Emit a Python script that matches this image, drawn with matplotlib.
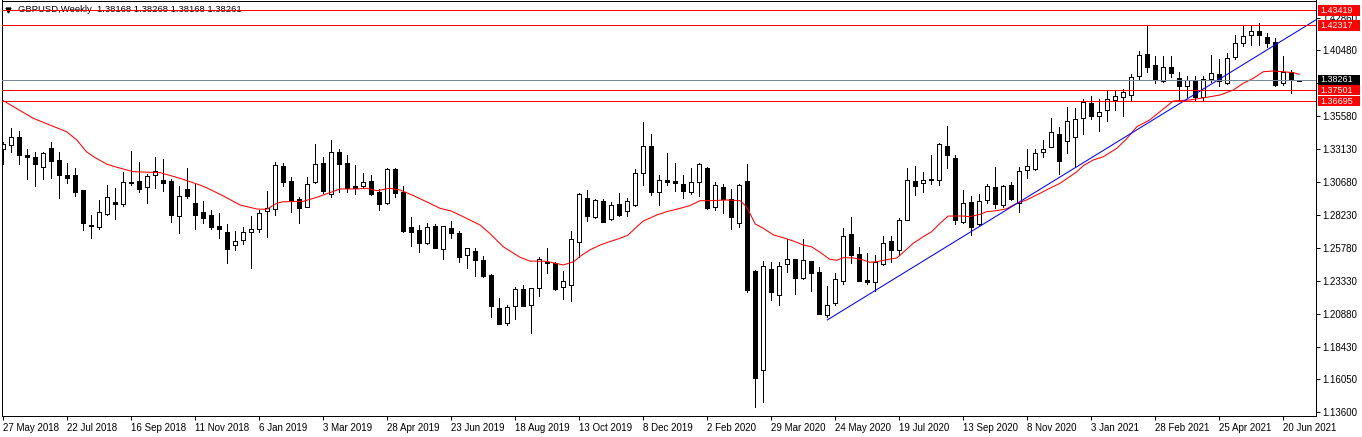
import matplotlib
matplotlib.use("Agg")
import matplotlib.pyplot as plt
from matplotlib.patches import Rectangle
from matplotlib.lines import Line2D
import pandas as pd

plt.rcParams["font.family"] = ["Liberation Sans", "DejaVu Sans"]
plt.rcParams["font.size"] = 7

# ---- data --------------------------------------------------------------
symbol = "GBPUSD,Weekly"
first_week = "2018-05-27"

opens = [1.3311, 1.3341, 1.3400, 1.3269, 1.3251, 1.3177, 1.3318, 1.3229, 1.3118, 1.3118,
         1.3009, 1.2749, 1.2737, 1.2834, 1.2918, 1.2905, 1.3068, 1.3076, 1.3034, 1.3118,
         1.3086, 1.3076, 1.2819, 1.3017, 1.2910, 1.2846, 1.2824, 1.2742, 1.2698, 1.2599,
         1.2636, 1.2695, 1.2717, 1.2851, 1.2866, 1.3187, 1.3076, 1.2940, 1.2886, 1.3066,
         1.3210, 1.2980, 1.3291, 1.3210, 1.3039, 1.3036, 1.3076, 1.2994, 1.2910, 1.3165,
         1.2997, 1.2732, 1.2713, 1.2619, 1.2742, 1.2574, 1.2727, 1.2690, 1.2525, 1.2557,
         1.2490, 1.2379, 1.2134, 1.2025, 1.2146, 1.2272, 1.2154, 1.2280, 1.2475, 1.2465,
         1.2287, 1.2302, 1.2621, 1.2947, 1.2811, 1.2928, 1.2792, 1.2903, 1.2851, 1.2901,
         1.3133, 1.3333, 1.2997, 1.3084, 1.3076, 1.3054, 1.2992, 1.3066, 1.3170, 1.2881,
         1.3029, 1.2940, 1.2767, 1.3076, 1.2406, 1.1671, 1.2423, 1.2228, 1.2458, 1.2497,
         1.2359, 1.2483, 1.2401, 1.2079, 1.2169, 1.2334, 1.2683, 1.2535, 1.2339, 1.2327,
         1.2458, 1.2631, 1.2562, 1.2784, 1.3076, 1.3059, 1.3091, 1.3086, 1.3336, 1.3247,
         1.2774, 1.2920, 1.2755, 1.2933, 1.3032, 1.2896, 1.3046, 1.2915, 1.3155, 1.3168,
         1.3289, 1.3331, 1.3425, 1.3370, 1.3400, 1.3541, 1.3655, 1.3561, 1.3600, 1.3675,
         1.3697, 1.3712, 1.3853, 1.4021, 1.3934, 1.3816, 1.3919, 1.3838, 1.3781, 1.3825,
         1.3702, 1.3830, 1.3870, 1.3806, 1.3994, 1.4097, 1.4157, 1.4187, 1.4142, 1.4110,
         1.3806, 1.3887, 1.38168]
highs = [1.3368, 1.3467, 1.3447, 1.3313, 1.3291, 1.3294, 1.3365, 1.3291, 1.3209, 1.3172,
         1.3012, 1.2824, 1.2935, 1.3046, 1.3026, 1.3145, 1.3298, 1.3217, 1.3125, 1.3254,
         1.3239, 1.3093, 1.3039, 1.3172, 1.3056, 1.2928, 1.2861, 1.2839, 1.2757, 1.2705,
         1.2735, 1.2816, 1.2861, 1.3004, 1.3217, 1.3210, 1.3103, 1.2960, 1.3106, 1.3351,
         1.3254, 1.3380, 1.3314, 1.3269, 1.3195, 1.3138, 1.3121, 1.3017, 1.3175, 1.3170,
         1.3039, 1.2809, 1.2750, 1.2762, 1.2757, 1.2742, 1.2779, 1.2705, 1.2580, 1.2577,
         1.2520, 1.2383, 1.2208, 1.2154, 1.2290, 1.2302, 1.2282, 1.2510, 1.2579, 1.2475,
         1.2408, 1.2705, 1.2985, 1.3009, 1.2940, 1.2940, 1.2918, 1.2985, 1.2947, 1.3163,
         1.3511, 1.3425, 1.3118, 1.3284, 1.3210, 1.3118, 1.3170, 1.3212, 1.3177, 1.3069,
         1.3054, 1.3017, 1.3054, 1.3202, 1.2416, 1.2485, 1.2478, 1.2475, 1.2643, 1.2500,
         1.2648, 1.2485, 1.2436, 1.2297, 1.2394, 1.2727, 1.2809, 1.2584, 1.2539, 1.2525,
         1.2668, 1.2668, 1.2804, 1.3173, 1.3187, 1.3143, 1.3269, 1.3358, 1.3487, 1.3269,
         1.3009, 1.2965, 1.2982, 1.3051, 1.3182, 1.3049, 1.3069, 1.3180, 1.3311, 1.3311,
         1.3380, 1.3544, 1.3474, 1.3623, 1.3615, 1.3682, 1.3707, 1.3682, 1.3746, 1.3754,
         1.3759, 1.3870, 1.4041, 1.4229, 1.4003, 1.4003, 1.4003, 1.3887, 1.3855, 1.3855,
         1.3855, 1.4011, 1.3979, 1.4023, 1.4159, 1.4226, 1.4226, 1.4246, 1.4172, 1.4135,
         1.4003, 1.3900, 1.38268]
lows = [1.3202, 1.3294, 1.3202, 1.3091, 1.3041, 1.3093, 1.3101, 1.2952, 1.3064, 1.2967,
        1.2715, 1.2655, 1.2722, 1.2824, 1.2794, 1.2893, 1.3049, 1.2997, 1.2915, 1.3024,
        1.3002, 1.2774, 1.2693, 1.2952, 1.2717, 1.2762, 1.2722, 1.2656, 1.2470, 1.2562,
        1.2611, 1.2433, 1.2700, 1.2663, 1.2826, 1.3041, 1.2849, 1.2767, 1.2880, 1.3059,
        1.2985, 1.2955, 1.2997, 1.2997, 1.2982, 1.3024, 1.2975, 1.2863, 1.2905, 1.2960,
        1.2700, 1.2594, 1.2552, 1.2606, 1.2576, 1.2500, 1.2656, 1.2478, 1.2433, 1.2374,
        1.2366, 1.2070, 1.2015, 1.2010, 1.2055, 1.2148, 1.1951, 1.2225, 1.2391, 1.2267,
        1.2203, 1.2188, 1.2515, 1.2782, 1.2804, 1.2769, 1.2784, 1.2819, 1.2819, 1.2893,
        1.3049, 1.2975, 1.2901, 1.3049, 1.3002, 1.2950, 1.2977, 1.2967, 1.2871, 1.2861,
        1.2841, 1.2722, 1.2732, 1.2255, 1.1402, 1.1439, 1.2193, 1.2159, 1.2401, 1.2240,
        1.2349, 1.2260, 1.2090, 1.2070, 1.2159, 1.2312, 1.2465, 1.2335, 1.2309, 1.2260,
        1.2455, 1.2473, 1.2525, 1.2784, 1.2972, 1.2997, 1.3056, 1.3047, 1.3170, 1.2760,
        1.2767, 1.2673, 1.2752, 1.2915, 1.2876, 1.2886, 1.2933, 1.2849, 1.3101, 1.3158,
        1.3257, 1.3331, 1.3128, 1.3286, 1.3183, 1.3427, 1.3536, 1.3450, 1.3521, 1.3605,
        1.3561, 1.3677, 1.3825, 1.3887, 1.3801, 1.3808, 1.3845, 1.3672, 1.3702, 1.3677,
        1.3672, 1.3813, 1.3781, 1.3796, 1.3979, 1.4078, 1.4085, 1.4085, 1.4073, 1.3781,
        1.3788, 1.3732, 1.38168]
closes = [1.3350, 1.3405, 1.3271, 1.3256, 1.3204, 1.3284, 1.3227, 1.3123, 1.3101, 1.2997,
          1.2767, 1.2742, 1.2843, 1.2955, 1.2908, 1.3066, 1.3061, 1.3017, 1.3111, 1.3153,
          1.3064, 1.2826, 1.2962, 1.2965, 1.2826, 1.2804, 1.2737, 1.2722, 1.2574, 1.2628,
          1.2695, 1.2717, 1.2839, 1.2873, 1.3195, 1.3071, 1.2938, 1.2878, 1.3054, 1.3202,
          1.3002, 1.3291, 1.3205, 1.3027, 1.3027, 1.3069, 1.2982, 1.2908, 1.3165, 1.2989,
          1.2708, 1.2700, 1.2619, 1.2732, 1.2581, 1.2740, 1.2693, 1.2515, 1.2577, 1.2492,
          1.2371, 1.2151, 1.2018, 1.2141, 1.2275, 1.2151, 1.2280, 1.2495, 1.2468, 1.2277,
          1.2332, 1.2643, 1.2977, 1.2819, 1.2933, 1.2774, 1.2896, 1.2826, 1.2928, 1.3133,
          1.3333, 1.2997, 1.3081, 1.3071, 1.3059, 1.3004, 1.3069, 1.3202, 1.2876, 1.3044,
          1.2945, 1.2811, 1.3044, 1.2267, 1.1617, 1.2443, 1.2255, 1.2445, 1.2497, 1.2359,
          1.2487, 1.2394, 1.2092, 1.2154, 1.2347, 1.2666, 1.2530, 1.2337, 1.2329, 1.2478,
          1.2614, 1.2562, 1.2784, 1.3081, 1.3041, 1.3084, 1.3084, 1.3351, 1.3271, 1.2789,
          1.2913, 1.2737, 1.2925, 1.3042, 1.2908, 1.3039, 1.2940, 1.3148, 1.3187, 1.3281,
          1.3314, 1.3437, 1.3227, 1.3521, 1.3536, 1.3662, 1.3561, 1.3588, 1.3682, 1.3704,
          1.3736, 1.3845, 1.4008, 1.3924, 1.3825, 1.3919, 1.3875, 1.3783, 1.3823, 1.3702,
          1.3835, 1.3877, 1.3818, 1.3986, 1.4097, 1.4152, 1.4187, 1.4157, 1.4102, 1.3788,
          1.3887, 1.3825, 1.38261]

# moving average (red), sampled along the line: position in weeks, value
ma_pos = [0, 3.75, 5.8, 7.9, 9.2, 10.4, 11.3, 12.9, 14.2, 16.25, 19.6, 22.1, 24.6, 25.4,
          27.5, 29.6, 31.7, 32.9, 34.2, 35, 37.5, 39.2, 40.8, 42.1, 44.2, 45.4, 46.7, 48.3,
          49.6, 51.3, 53.3, 54.6, 56, 57.5, 59.6, 60.8, 62.5, 64.6, 65.8, 67.9, 70, 71.3,
          72.1, 73.3, 74.6, 75.8, 77.1, 78.1, 79.2, 80, 81.7, 82.9, 84.6, 85.8, 87.1, 88.3,
          90.4, 92.1, 92.9, 94, 95, 96.3, 97.5, 98.75, 100, 101, 102.1, 103.3, 104.2, 105,
          106.25, 107.5, 108.3, 109.2, 110.4, 111.7, 112.5, 113.75, 115, 116, 117.1, 118.1,
          120, 120.8, 122.1, 122.9, 124.2, 125.4, 126.7, 127.9, 129.6, 130.8, 132.1, 133.3,
          134.2, 135, 136.25, 137.5, 139.2, 140.4, 141.7, 143.3, 146.25, 148.3, 150.4,
          152.1, 153.75, 155, 156.25, 157.5, 158.75, 160, 161.25, 162]
ma_vals = [1.3672, 1.3541, 1.3492, 1.3442, 1.3380, 1.3293, 1.3256, 1.3202, 1.3178, 1.3145,
           1.3138, 1.3096, 1.3046, 1.3026, 1.2965, 1.2898, 1.2868, 1.2866, 1.2911, 1.2922,
           1.2925, 1.2955, 1.2989, 1.3017, 1.3017, 1.3022, 1.3004, 1.3022, 1.3009, 1.2967,
           1.2911, 1.2873, 1.2853, 1.2811, 1.2749, 1.2688, 1.2588, 1.2510, 1.2482, 1.2480,
           1.2453, 1.2477, 1.2517, 1.2564, 1.2601, 1.2626, 1.2651, 1.2675, 1.2737, 1.2779,
           1.2824, 1.2848, 1.2873, 1.2893, 1.2930, 1.2930, 1.2935, 1.2930, 1.2885, 1.2757,
           1.2725, 1.2675, 1.2655, 1.2631, 1.2601, 1.2589, 1.2547, 1.2495, 1.2488, 1.2507,
           1.2505, 1.2490, 1.2473, 1.2477, 1.2492, 1.2505, 1.2547, 1.2614, 1.2663, 1.2698,
           1.2762, 1.2816, 1.2816, 1.2811, 1.2829, 1.2848, 1.2856, 1.2870, 1.2911, 1.2935,
           1.2985, 1.3022, 1.3059, 1.3108, 1.3145, 1.3190, 1.3232, 1.3256, 1.3319, 1.3388,
           1.3479, 1.3529, 1.3670, 1.3677, 1.3697, 1.3714, 1.3751, 1.3801, 1.3838, 1.3887,
           1.3892, 1.3887, 1.3880, 1.3868]

# blue trend line (ray to the right): two anchor points
trend_pos = [103, 160]
trend_vals = [1.2045, 1.4123]

# horizontal levels (red) and current bid (grey)
levels = [1.43419, 1.42317, 1.37501, 1.36695]
bid = 1.38261

ytick_vals = [1.1360, 1.1605, 1.1843, 1.2088, 1.2333, 1.2578, 1.2823, 1.3068,
              1.3313, 1.3558, 1.3803, 1.4048, 1.4286]
# 1.38030 sits fully under the bid box in the reference, so it has no visible text
ytick_labels = ["1.13600", "1.16050", "1.18430", "1.20880", "1.23330", "1.25780",
                "1.28230", "1.30680", "1.33130", "1.35580", "", "1.40480", "1.42860"]

# ---- figure -------------------------------------------------------------
W, H = 1362, 437
LW = 0.72  # one pixel at 100 dpi
fig = plt.figure(figsize=(W / 100, H / 100), dpi=100)
fig.patch.set_facecolor("white")
ax = fig.add_axes([2 / W, 21 / H, 1314 / W, 415.5 / H])
ax.set_xlim(-0.16, 164.09)
ax.set_ylim(1.13323, 1.44153)
px = (1.44153 - 1.13323) / 415.5  # price per pixel

weeks = pd.date_range(first_week, periods=len(closes), freq="7D")

# candles
body_w = 0.5
for i, (o, h, l, c) in enumerate(zip(opens, highs, lows, closes)):
    ax.add_line(Line2D([i, i], [l, h], color="black", lw=LW, antialiased=False,
                       snap=True, zorder=2))
    bull = c >= o
    ax.add_patch(Rectangle((i - body_w / 2, min(o, c)), body_w, max(abs(c - o), px * 0.6),
                           facecolor="white" if bull else "black", edgecolor="black",
                           lw=LW, antialiased=False, snap=True, zorder=2.1))

# moving average
ax.plot(ma_pos, ma_vals, color="#ff0000", lw=0.75, antialiased=True, zorder=3)

# trend ray
slope = (trend_vals[1] - trend_vals[0]) / (trend_pos[1] - trend_pos[0])
x_end = ax.get_xlim()[1]
ax.plot([trend_pos[0], x_end], [trend_vals[0], trend_vals[0] + slope * (x_end - trend_pos[0])],
        color="#0000ff", lw=0.75, antialiased=True, zorder=3)

# horizontal lines
for lv in levels:
    ax.axhline(lv, color="#ff0000", lw=LW, antialiased=False, snap=True, zorder=3.2)
ax.axhline(bid, color="#778899", lw=LW, antialiased=False, snap=True, zorder=3.1)

# axes styling
for s in ax.spines.values():
    s.set_color("black")
    s.set_linewidth(LW)
ax.yaxis.tick_right()
ax.set_yticks(ytick_vals)
ax.set_yticklabels(ytick_labels)
ax.tick_params(axis="y", direction="out", length=3, width=LW, pad=1.5, labelsize=7)

xt = list(range(0, len(closes), 8))
ax.set_xticks(xt)
ax.set_xticklabels([f"{weeks[i].day} {weeks[i].strftime('%b %Y')}" for i in xt])
ax.tick_params(axis="x", direction="out", length=3, width=LW, pad=2, labelsize=7)
for lbl in ax.get_xticklabels():
    lbl.set_ha("left")

# price boxes on the right scale
ytr = ax.get_yaxis_transform()
box_x, box_w = 1.0015, 0.032
for val, face in [(levels[0], "#ff0000"), (levels[1], "#ff0000"), (bid, "#000000"),
                  (levels[2], "#ff0000"), (levels[3], "#ff0000")]:
    ax.add_patch(Rectangle((box_x, val - 5.3 * px), box_w, 10.6 * px, transform=ytr,
                           facecolor=face, edgecolor="none", clip_on=False, zorder=5))
    ax.text(box_x + 0.0018, val, f"{val:.5f}", transform=ytr, color="white",
            fontsize=6.5, va="center", ha="left", clip_on=False, zorder=6)

# title line
ax.text(16 / 1314, 1 - 9 / 415.5, f"{symbol}  " + " ".join(
    f"{v:.5f}" for v in (opens[-1], highs[-1], lows[-1], closes[-1])),
    transform=ax.transAxes, fontsize=6.8, va="center", ha="left", color="black", zorder=1.5)
ax.plot([6 / 1314], [1 - 9 / 415.5], marker="v", markersize=3.5, color="black",
        transform=ax.transAxes, clip_on=False, zorder=1.5)

fig.savefig("out.png", dpi=100, facecolor="white")
